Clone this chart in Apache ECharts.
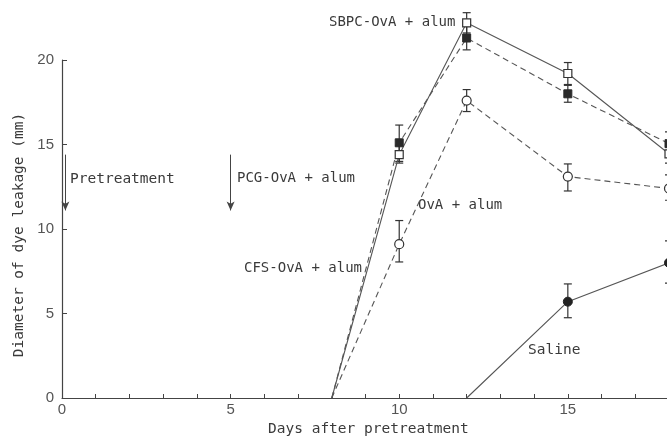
<!DOCTYPE html>
<html><head><meta charset="utf-8">
<script src="https://cdn.jsdelivr.net/npm/echarts@6/dist/echarts.min.js"></script>
<style>html,body{margin:0;padding:0;background:#fff}#c{width:667px;height:440px}</style>
</head><body><div id="c"></div>
<script>
// ---- data ----
const days = [8, 10, 12, 15, 18];
const sbpc     = [0, 14.4, 22.2, 19.2, 14.45];
const sbpcLow  = [null, 13.9, 21.6, 18.55, 13.9];
const sbpcHigh = [null, 14.95, 22.8, 19.85, 15.0];
const cfs      = [0, 15.1, 21.3, 18.0, 15.05];
const cfsLow   = [null, 14.0, 20.6, 17.5, 14.4];
const cfsHigh  = [null, 16.15, 22.0, 18.5, 15.75];
const ova      = [0, 9.1, 17.6, 13.1, 12.4];
const ovaLow   = [null, 8.05, 16.95, 12.25, 11.7];
const ovaHigh  = [null, 10.5, 18.25, 13.85, 13.2];
const salineDays = [12, 15, 18];
const saline     = [0, 5.7, 8.0];
const salineLow  = [null, 4.75, 6.8];
const salineHigh = [null, 6.75, 9.3];
const xLabelTicks = [0, 5, 10, 15];
const yTicks = [0, 5, 10, 15, 20];
const arrowDays = [0.1, 5.0];
const arrowTop = 14.4, arrowBottom = 11.1;

const MONO = '"DejaVu Sans Mono", "Liberation Mono", monospace';
const TXT = '#3a3a3a';

function lineData(xs, ys) {
  return xs.map((x, i) => (i === 0 ? { value: [x, ys[i]], symbol: 'none' } : { value: [x, ys[i]] }));
}
function errData(xs, lo, hi) {
  const out = [];
  xs.forEach((x, i) => { if (lo[i] != null) out.push([x, lo[i], hi[i]]); });
  return out;
}
function errRender(params, api) {
  const x = api.value(0), lo = api.value(1), hi = api.value(2);
  const a = api.coord([x, lo]), b = api.coord([x, hi]);
  const hw = 4;
  const style = { stroke: '#333', lineWidth: 1.2, fill: null };
  return { type: 'group', children: [
    { type: 'line', shape: { x1: a[0], y1: a[1], x2: b[0], y2: b[1] }, style },
    { type: 'line', shape: { x1: a[0] - hw, y1: a[1], x2: a[0] + hw, y2: a[1] }, style },
    { type: 'line', shape: { x1: b[0] - hw, y1: b[1], x2: b[0] + hw, y2: b[1] }, style }
  ]};
}
function errSeries(xs, lo, hi) {
  return { type: 'custom', renderItem: errRender, data: errData(xs, lo, hi), clip: false, z: 1, silent: true };
}

const chart = echarts.init(document.getElementById('c'), null, { renderer: 'canvas' });
chart.setOption({
  animation: false,
  backgroundColor: '#fff',
  grid: { left: 62, top: 60, width: 607, height: 338, containLabel: false, outerBoundsMode: 'none' },
  xAxis: {
    type: 'value', min: 0, max: 18, interval: 1,
    axisLine: { lineStyle: { color: '#444', width: 1.2 } },
    axisTick: { inside: true, length: 4, lineStyle: { color: '#444' } },
    axisLabel: { margin: 4, color: '#555', fontFamily: '"Liberation Sans", Arial, sans-serif', fontSize: 15,
      formatter: v => (xLabelTicks.indexOf(v) >= 0 ? String(v) : '') },
    splitLine: { show: false }
  },
  yAxis: {
    type: 'value', min: 0, max: 20, interval: 5,
    axisLine: { show: true, lineStyle: { color: '#444', width: 1.2 } },
    axisTick: { show: true, inside: true, length: 5, lineStyle: { color: '#444' } },
    axisLabel: { margin: 8, color: '#555', fontFamily: '"Liberation Sans", Arial, sans-serif', fontSize: 15,
      formatter: v => (yTicks.indexOf(v) >= 0 ? String(v) : '') },
    splitLine: { show: false }
  },
  series: [
    errSeries(days, sbpcLow, sbpcHigh),
    errSeries(days, cfsLow, cfsHigh),
    errSeries(days, ovaLow, ovaHigh),
    errSeries(salineDays, salineLow, salineHigh),
    { name: 'SBPC-OvA + alum', type: 'line', data: lineData(days, sbpc), clip: false, z: 2,
      symbol: 'rect', symbolSize: 8,
      lineStyle: { color: '#555', width: 1.1, type: 'solid' },
      itemStyle: { color: '#fff', borderColor: '#333', borderWidth: 1.2 } },
    { name: 'CFS-OvA + alum', type: 'line', data: lineData(days, cfs), clip: false, z: 2,
      symbol: 'rect', symbolSize: 8,
      lineStyle: { color: '#555', width: 1.1, type: [6, 4] },
      itemStyle: { color: '#2a2a2a', borderColor: '#2a2a2a', borderWidth: 1 } },
    { name: 'OvA + alum', type: 'line', data: lineData(days, ova), clip: false, z: 2,
      symbol: 'circle', symbolSize: 9,
      lineStyle: { color: '#555', width: 1.1, type: [6, 4] },
      itemStyle: { color: '#fff', borderColor: '#333', borderWidth: 1.2 } },
    { name: 'Saline', type: 'line', data: lineData(salineDays, saline), clip: false, z: 2,
      symbol: 'circle', symbolSize: 9,
      lineStyle: { color: '#555', width: 1.1, type: 'solid' },
      itemStyle: { color: '#222', borderColor: '#222', borderWidth: 1 },
      markLine: {
        silent: true, symbol: ['none', 'arrow'], symbolSize: [6, 9],
        label: { show: false },
        lineStyle: { color: '#444', width: 1, type: 'solid' },
        data: arrowDays.map(d => [{ coord: [d, arrowTop] }, { coord: [d, arrowBottom] }])
      } }
  ],
  graphic: [
    { type: 'text', left: 70, top: 172, style: { text: 'Pretreatment', font: '14.5px ' + MONO, fill: TXT } },
    { type: 'text', left: 237, top: 171, style: { text: 'PCG-OvA + alum', font: '14px ' + MONO, fill: TXT } },
    { type: 'text', left: 329, top: 15, style: { text: 'SBPC-OvA + alum', font: '14px ' + MONO, fill: TXT } },
    { type: 'text', left: 418, top: 198, style: { text: 'OvA + alum', font: '14px ' + MONO, fill: TXT } },
    { type: 'text', left: 244, top: 261, style: { text: 'CFS-OvA + alum', font: '14px ' + MONO, fill: TXT } },
    { type: 'text', left: 528, top: 343, style: { text: 'Saline', font: '14.5px ' + MONO, fill: TXT } },
    { type: 'text', left: 268, top: 422, style: { text: 'Days after pretreatment', font: '14.5px ' + MONO, fill: TXT } },
    { type: 'text', x: 19, y: 235, rotation: Math.PI / 2,
      style: { text: 'Diameter of dye leakage (mm)', font: '14.5px ' + MONO, fill: TXT, align: 'center', verticalAlign: 'middle' } }
  ]
});
</script>
</body></html>
